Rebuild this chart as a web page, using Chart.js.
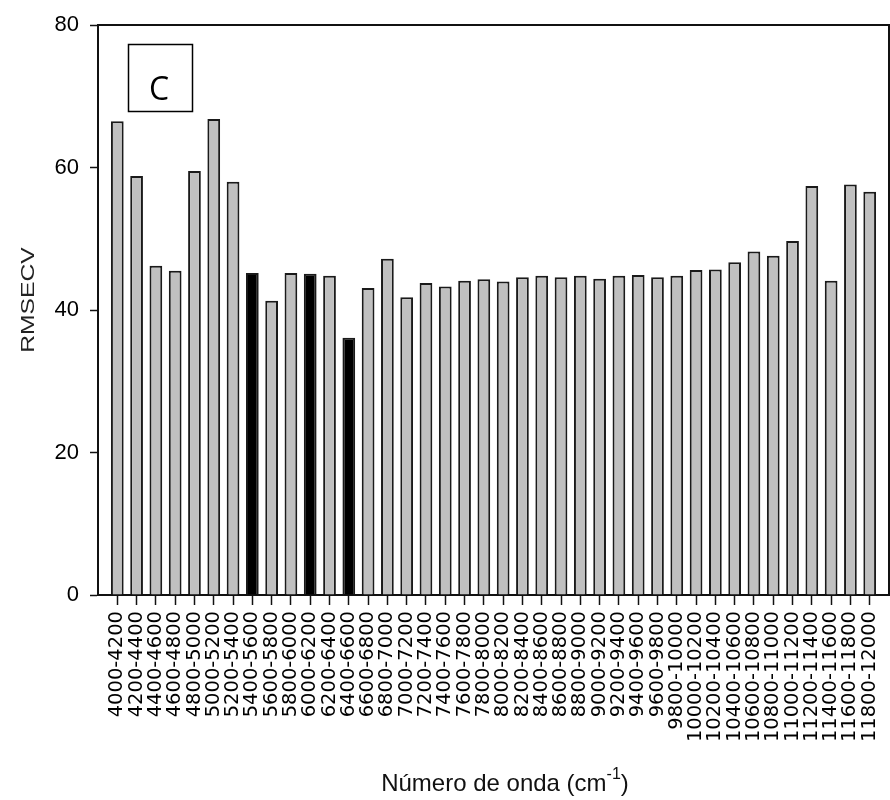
<!DOCTYPE html>
<html>
<head>
<meta charset="utf-8">
<script src="https://cdn.jsdelivr.net/npm/chart.js@4/dist/chart.umd.min.js"></script>
<style>
  html, body { margin: 0; padding: 0; background: #fff; }
  #wrap { width: 890px; height: 800px; }
</style>
</head>
<body>
<div id="wrap"><canvas id="c" width="890" height="800"></canvas></div>
<script>
const categories = ['4000-4200','4200-4400','4400-4600','4600-4800','4800-5000','5000-5200','5200-5400','5400-5600','5600-5800','5800-6000','6000-6200','6200-6400','6400-6600','6600-6800','6800-7000','7000-7200','7200-7400','7400-7600','7600-7800','7800-8000','8000-8200','8200-8400','8400-8600','8600-8800','8800-9000','9000-9200','9200-9400','9400-9600','9600-9800','9800-10000','10000-10200','10200-10400','10400-10600','10600-10800','10800-11000','11000-11200','11200-11400','11400-11600','11600-11800','11800-12000'];
const rmsecv = [66.5, 58.8, 46.2, 45.5, 59.5, 66.8, 58.0, 45.2, 41.3, 45.2, 45.1, 44.8, 36.1, 43.1, 47.2, 41.8, 43.8, 43.3, 44.1, 44.3, 44.0, 44.6, 44.8, 44.6, 44.8, 44.4, 44.8, 44.9, 44.6, 44.8, 45.6, 45.7, 46.7, 48.2, 47.6, 49.7, 57.4, 44.1, 57.6, 56.6];
const selected = ['5400-5600', '6000-6200', '6400-6600'];
const yTicks = [0, 20, 40, 60, 80];
const yTitle = 'RMSECV';
const xTitle = 'Número de onda (cm';
const xTitleSup = '-1';
const panelLabel = 'C';

// padded category list: one empty slot on each side
const labels = [''].concat(categories, ['']);
const data = [null].concat(rmsecv, [null]);
const colors = labels.map(l => selected.includes(l) ? '#000000' : '#c0c0c0');

const decor = {
  id: 'decor',
  afterDraw(chart) {
    const ctx = chart.ctx;
    const a = chart.chartArea;
    ctx.save();
    // frame top and right
    ctx.strokeStyle = '#111';
    ctx.lineWidth = 2;
    ctx.beginPath();
    ctx.moveTo(a.left, a.top);
    ctx.lineTo(a.right, a.top);
    ctx.lineTo(a.right, a.bottom);
    ctx.stroke();

    // panel label box
    ctx.lineWidth = 1.5;
    ctx.strokeStyle = '#000';
    ctx.strokeRect(128.5, 44.5, 64, 67);
    ctx.fillStyle = '#000';
    ctx.font = '32px "Open Sans", "Liberation Sans", sans-serif';
    ctx.textAlign = 'center';
    ctx.textBaseline = 'alphabetic';
    ctx.fillText(panelLabel, 159, 100);

    // y title
    ctx.save();
    ctx.translate(34, 300);
    ctx.rotate(-Math.PI / 2);
    ctx.scale(1.3, 1);
    ctx.font = '19px "Liberation Sans", Arial, sans-serif';
    ctx.fillStyle = '#222';
    ctx.textAlign = 'center';
    ctx.textBaseline = 'alphabetic';
    ctx.fillText(yTitle, 0, 0);
    ctx.restore();

    // x title with superscript
    ctx.font = '24px "Liberation Sans", Arial, sans-serif';
    ctx.fillStyle = '#111';
    ctx.textAlign = 'left';
    ctx.textBaseline = 'alphabetic';
    const w1 = ctx.measureText(xTitle).width;
    ctx.font = '16px "Liberation Sans", Arial, sans-serif';
    const w2 = ctx.measureText(xTitleSup).width;
    ctx.font = '24px "Liberation Sans", Arial, sans-serif';
    const w3 = ctx.measureText(')').width;
    const total = w1 + w2 + w3;
    let x = 505 - total / 2;
    const base = 791;
    ctx.fillText(xTitle, x, base);
    x += w1;
    ctx.font = '16px "Liberation Sans", Arial, sans-serif';
    ctx.fillText(xTitleSup, x, base - 12);
    x += w2;
    ctx.font = '24px "Liberation Sans", Arial, sans-serif';
    ctx.fillText(')', x, base);
    ctx.restore();
  }
};

new Chart(document.getElementById('c'), {
  type: 'bar',
  data: {
    labels: labels,
    datasets: [{
      label: yTitle,
      data: data,
      backgroundColor: colors,
      borderColor: '#1a1a1a',
      borderWidth: 2,
      borderSkipped: 'start',
      barPercentage: 0.66,
      categoryPercentage: 1.0
    }]
  },
  options: {
    responsive: false,
    animation: false,
    devicePixelRatio: 1,
    layout: { padding: { left: 0, top: 25, right: 1, bottom: 0 } },
    plugins: {
      legend: { display: false },
      tooltip: { enabled: false },
      title: { display: false }
    },
    scales: {
      x: {
        type: 'category',
        offset: false,
        grid: {
          display: true,
          offset: false,
          drawOnChartArea: false,
          drawTicks: true,
          tickLength: 10,
          tickWidth: 1.5,
          tickColor: (c) => (c.index === 0 || c.index === labels.length - 1) ? 'rgba(0,0,0,0)' : '#111'
        },
        border: { display: true, color: '#111', width: 2 },
        ticks: {
          autoSkip: false,
          maxRotation: 90,
          minRotation: 90,
          padding: 6,
          color: '#000',
          font: { family: '"DejaVu Sans", sans-serif', size: 19.5 }
        },
        afterFit(scale) {
          scale.height = 205;
          scale.paddingLeft = 0;
          scale.paddingRight = 0;
        }
      },
      y: {
        min: 0,
        max: 80,
        afterBuildTicks(scale) {
          scale.ticks = yTicks.map(v => ({ value: v }));
        },
        grid: {
          display: true,
          drawOnChartArea: false,
          drawTicks: true,
          tickLength: 8,
          tickWidth: 1.5,
          tickColor: '#111'
        },
        border: { display: true, color: '#111', width: 2 },
        ticks: {
          padding: 11,
          color: '#000',
          font: { family: '"Liberation Sans", Arial, sans-serif', size: 22 }
        },
        afterFit(scale) {
          scale.width = 98;
          scale.paddingTop = 0;
          scale.paddingBottom = 0;
        }
      }
    }
  },
  plugins: [decor]
});
</script>
</body>
</html>
